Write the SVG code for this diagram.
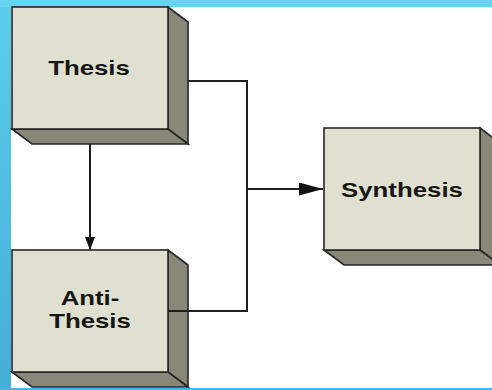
<svg xmlns="http://www.w3.org/2000/svg" width="492" height="390" viewBox="0 0 492 390">
<defs>
<linearGradient id="leftBand" x1="0" y1="0" x2="0" y2="1">
<stop offset="0" stop-color="#5dcdec"/>
<stop offset="1" stop-color="#45aed8"/>
</linearGradient>
<marker id="arrowV" viewBox="0 0 10 13" refX="5" refY="13" markerWidth="10" markerHeight="13" markerUnits="userSpaceOnUse" orient="0">
<path d="M0,0 L10,0 L5,13 Z" fill="#111"/>
</marker>
<marker id="arrowH" viewBox="0 0 24 13" refX="24" refY="6.5" markerWidth="24" markerHeight="13" markerUnits="userSpaceOnUse" orient="0">
<path d="M0,0 L24,6.5 L0,13 Z" fill="#111"/>
</marker>
<style>
.front{fill:#dfe0cf;stroke:#262626;stroke-width:1.6}
.shade{fill:#878878;stroke:#262626;stroke-width:1.6;stroke-linejoin:miter}
.lbl{font-family:"Liberation Sans",Arial,sans-serif;font-weight:bold;font-size:20px;fill:#161616;text-anchor:middle}
.conn{fill:none;stroke:#1e1e1e;stroke-width:2}
</style>
</defs>
<rect x="0" y="0" width="492" height="390" fill="#ffffff"/>
<rect x="0" y="0" width="11" height="390" fill="url(#leftBand)"/>
<rect x="0" y="0" width="492" height="7" fill="#66d3ef"/>
<rect x="0" y="388" width="492" height="2" fill="#4ab4dc"/>

<g id="connectors">
<path class="conn" d="M188,81 H247 V311 H168"/>
<path class="conn" d="M247,189 H323" marker-end="url(#arrowH)"/>
<path class="conn" d="M90,144 V250" marker-end="url(#arrowV)"/>
</g>

<g id="thesis">
<polygon class="shade" points="168,7 188,22 188,144 168,129"/>
<polygon class="shade" points="12,129 32,144 188,144 168,129"/>
<rect class="front" x="12" y="7" width="156" height="122"/>
<text class="lbl" transform="translate(89,75) scale(1.29,1)">Thesis</text>
</g>

<g id="antithesis">
<polygon class="shade" points="168,250 188,265 188,387 168,372"/>
<polygon class="shade" points="12,372 32,387 188,387 168,372"/>
<rect class="front" x="12" y="250" width="156" height="122"/>
<path class="conn" d="M168,311 H188"/>
<text class="lbl" transform="translate(90,305) scale(1.29,1)">Anti-</text>
<text class="lbl" transform="translate(90,328) scale(1.29,1)">Thesis</text>
</g>

<g id="synthesis">
<polygon class="shade" points="480,128 500,143 500,265 480,250"/>
<polygon class="shade" points="324,250 344,265 500,265 480,250"/>
<rect class="front" x="324" y="128" width="156" height="122"/>
<text class="lbl" transform="translate(402,197) scale(1.29,1)">Synthesis</text>
</g>
</svg>
